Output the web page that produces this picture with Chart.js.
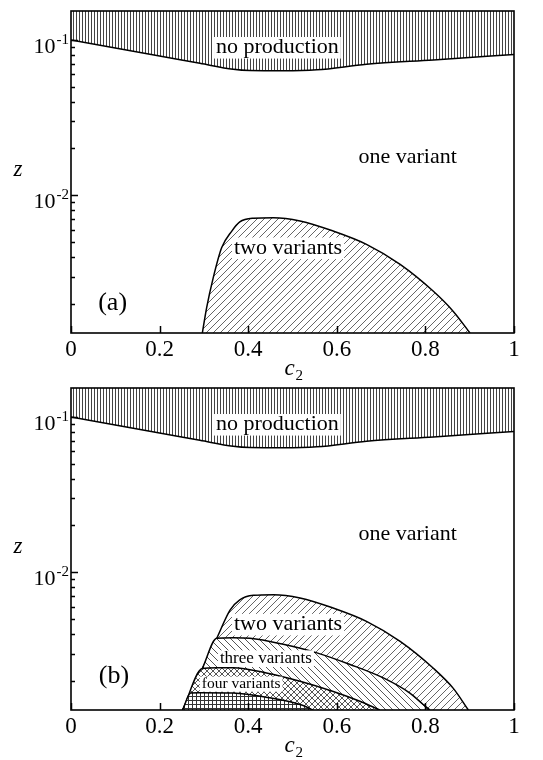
<!DOCTYPE html>
<html>
<head>
<meta charset="utf-8">
<script src="https://cdn.jsdelivr.net/npm/chart.js@4.4.1/dist/chart.umd.min.js"></script>
<style>
body { margin: 0; background: #fff; }
.panel { position: absolute; left: 0; width: 543px; }
</style>
</head>
<body>
<div class="panel" style="top:0;height:392px"><canvas id="chartA" width="543" height="392"></canvas></div>
<div class="panel" style="top:380px;height:380px"><canvas id="chartB" width="543" height="380"></canvas></div>
<script>
// axis ticks
const xTickValues = [0, 0.2, 0.4, 0.6, 0.8, 1];
const xTickLabels = ['0', '0.2', '0.4', '0.6', '0.8', '1'];
const yMajorTicks = [0.01, 0.1];
const yTickExponents = ['-2', '-1'];
const yMinorTicks = [0.002, 0.003, 0.004, 0.005, 0.006, 0.007, 0.008, 0.009,
                     0.02, 0.03, 0.04, 0.05, 0.06, 0.07, 0.08, 0.09];
const zMin = 0.0013;
const zMax = 0.153;

// "no production" boundary (same in both panels)
const c2NoProd = [0, 0.178, 0.291, 0.366, 0.404, 0.479, 0.555, 0.667, 0.818, 1];
const zNoProd = [0.0997, 0.0806, 0.0705, 0.0645, 0.0633, 0.0631, 0.064, 0.0695, 0.0741, 0.0803];

// panel (a): two variants
const c2TwoA = [0.2965, 0.306, 0.321, 0.340, 0.363, 0.381, 0.412, 0.457, 0.517, 0.592, 0.667, 0.743, 0.818, 0.863, 0.9007];
const zTwoA = [0.0013, 0.00188, 0.00294, 0.00459, 0.00588, 0.00673, 0.00711, 0.00717, 0.00683, 0.00588, 0.00483, 0.00359, 0.00241, 0.00179, 0.0013];

// panel (b)
const c2TwoB = [0.252, 0.2965, 0.329, 0.359, 0.381, 0.412, 0.457, 0.517, 0.592, 0.667, 0.743, 0.818, 0.863, 0.897];
const zTwoB = [0.0013, 0.0024, 0.00376, 0.00571, 0.00665, 0.0071, 0.00717, 0.00683, 0.00588, 0.00483, 0.00359, 0.00241, 0.00179, 0.0013];
const c2Three = [0.252, 0.2965, 0.329, 0.366, 0.404, 0.479, 0.555, 0.630, 0.705, 0.765, 0.795, 0.810];
const zThree = [0.0013, 0.0024, 0.00376, 0.00379, 0.00376, 0.00344, 0.00303, 0.00255, 0.00209, 0.00167, 0.00141, 0.0013];
const c2Four = [0.252, 0.2965, 0.329, 0.366, 0.441, 0.517, 0.592, 0.652, 0.697];
const zFour = [0.0013, 0.0024, 0.00243, 0.00243, 0.00225, 0.00199, 0.00171, 0.00148, 0.0013];
const c2Five = [0.252, 0.270, 0.291, 0.366, 0.441, 0.517, 0.547];
const zFive = [0.0013, 0.00167, 0.00168, 0.00167, 0.00157, 0.00141, 0.0013];

const serif = '"Liberation Serif", "Times New Roman", serif';

function pts(xs, ys) {
    return xs.map((v, i) => ({ x: v, y: ys[i] }));
}

function makePattern(w, h, color, draw) {
    const c = document.createElement('canvas');
    c.width = w;
    c.height = h;
    const g = c.getContext('2d');
    g.fillStyle = '#fff';
    g.fillRect(0, 0, w, h);
    g.strokeStyle = color;
    g.lineWidth = 1;
    g.beginPath();
    draw(g, w, h);
    g.stroke();
    return g.createPattern(c, 'repeat');
}

function slash(g, s) {
    g.moveTo(0, s); g.lineTo(s, 0);
    g.moveTo(-1, 1); g.lineTo(1, -1);
    g.moveTo(s - 1, s + 1); g.lineTo(s + 1, s - 1);
}
function backslash(g, s) {
    g.moveTo(0, 0); g.lineTo(s, s);
    g.moveTo(-1, s - 1); g.lineTo(1, s + 1);
    g.moveTo(s - 1, -1); g.lineTo(s + 1, 1);
}
const patVertical = makePattern(3, 3, '#444', (g, w, h) => { g.moveTo(1.5, 0); g.lineTo(1.5, h); });
const patSlash = makePattern(7, 7, '#666', (g, s) => slash(g, s));
const patBackslash = makePattern(7, 7, '#555', (g, s) => backslash(g, s));
const patCross = makePattern(6, 6, '#555', (g, s) => { slash(g, s); backslash(g, s); });
const patGrid = makePattern(4, 4, '#333', (g, s) => {
    g.moveTo(0, 0.5); g.lineTo(s, 0.5);
    g.moveTo(0.5, 0); g.lineTo(0.5, s);
});

function region(data, pattern, order, fill) {
    return {
        data: data,
        borderColor: '#000',
        borderWidth: 1.5,
        backgroundColor: pattern,
        fill: fill || 'start',
        pointRadius: 0,
        cubicInterpolationMode: 'monotone',
        order: order
    };
}

const decor = {
    id: 'decor',
    afterDatasetsDraw(chart, args, opts) {
        const ctx = chart.ctx;
        const a = chart.chartArea;
        const x = chart.scales.x;
        const y = chart.scales.y;
        ctx.save();

        // region labels
        opts.labels.forEach(l => {
            ctx.font = l.size + 'px ' + serif;
            const w = ctx.measureText(l.text).width;
            const px = x.getPixelForValue(l.c2);
            const py = y.getPixelForValue(l.z);
            if (l.box) {
                ctx.fillStyle = '#fff';
                ctx.fillRect(px - w / 2 - 2, py - l.size * 0.74, w + 4, l.size * 0.98);
            }
            ctx.fillStyle = '#000';
            ctx.textAlign = 'center';
            ctx.textBaseline = 'alphabetic';
            ctx.fillText(l.text, px, py);
        });

        // inward tick marks
        ctx.strokeStyle = '#000';
        ctx.lineWidth = 1.5;
        ctx.beginPath();
        yMinorTicks.forEach(v => {
            const py = Math.round(y.getPixelForValue(v)) + 0.5;
            ctx.moveTo(a.left, py);
            ctx.lineTo(a.left + 4, py);
        });
        yMajorTicks.forEach(v => {
            const py = Math.round(y.getPixelForValue(v)) + 0.5;
            ctx.moveTo(a.left, py);
            ctx.lineTo(a.left + 7, py);
        });
        xTickValues.forEach(v => {
            const px = Math.round(x.getPixelForValue(v)) + 0.5;
            ctx.moveTo(px, a.bottom);
            ctx.lineTo(px, a.bottom - 7);
        });
        ctx.stroke();

        // frame
        ctx.lineWidth = 1.6;
        ctx.strokeRect(a.left, a.top, a.right - a.left, a.bottom - a.top);

        // y tick labels 10^n
        ctx.fillStyle = '#000';
        ctx.textAlign = 'right';
        ctx.textBaseline = 'alphabetic';
        yMajorTicks.forEach((v, i) => {
            const py = y.getPixelForValue(v);
            ctx.font = '15px ' + serif;
            const ew = ctx.measureText(yTickExponents[i]).width;
            ctx.fillText(yTickExponents[i], a.left - 2, py + 4);
            ctx.font = '22px ' + serif;
            ctx.fillText('10', a.left - 3 - ew, py + 13);
        });

        // axis titles
        const midY = (a.top + a.bottom) / 2;
        ctx.font = 'italic 23px ' + serif;
        ctx.textAlign = 'center';
        ctx.fillText('z', 18, midY + 4);
        const cx = (a.left + a.right) / 2;
        ctx.textAlign = 'left';
        ctx.fillText('c', cx - 8, a.bottom + 42);
        ctx.font = '15px ' + serif;
        ctx.fillText('2', cx + 3, a.bottom + 47);

        ctx.restore();
    }
};

function makeChart(id, datasets, labels, topPad, axisHeight) {
    return new Chart(document.getElementById(id), {
        type: 'line',
        data: { datasets: datasets },
        options: {
            responsive: false,
            animation: false,
            layout: { padding: { top: topPad, right: 29, left: 0, bottom: 0 } },
            plugins: {
                legend: { display: false },
                tooltip: { enabled: false },
                colors: { enabled: false },
                decor: { labels: labels }
            },
            scales: {
                x: {
                    type: 'linear',
                    min: 0,
                    max: 1,
                    afterBuildTicks: s => { s.ticks = xTickValues.map(v => ({ value: v })); },
                    afterFit: s => { s.height = axisHeight; },
                    grid: { display: false, drawTicks: false },
                    border: { display: false },
                    ticks: {
                        padding: 3,
                        color: '#000',
                        font: { family: serif, size: 23 },
                        maxRotation: 0,
                        autoSkip: false,
                        callback: (v, i) => xTickLabels[i]
                    }
                },
                y: {
                    type: 'logarithmic',
                    min: zMin,
                    max: zMax,
                    afterFit: s => { s.width = 71; },
                    grid: { display: false, drawTicks: false },
                    border: { display: false },
                    ticks: { display: false }
                }
            }
        },
        plugins: [decor]
    });
}

makeChart('chartA', [
    region(pts(c2NoProd, zNoProd), patVertical, 5, 'end'),
    region(pts(c2TwoA, zTwoA), patSlash, 4)
], [
    { text: 'no production', c2: 0.466, z: 0.0818, size: 22, box: true },
    { text: 'one variant', c2: 0.76, z: 0.0161, size: 22 },
    { text: 'two variants', c2: 0.49, z: 0.0042, size: 22, box: true },
    { text: '(a)', c2: 0.094, z: 0.00184, size: 26 }
], 11, 59);

makeChart('chartB', [
    region(pts(c2NoProd, zNoProd), patVertical, 5, 'end'),
    region(pts(c2TwoB, zTwoB), patSlash, 4),
    region(pts(c2Three, zThree), patBackslash, 3),
    region(pts(c2Four, zFour), patCross, 2),
    region(pts(c2Five, zFive), patGrid, 1)
], [
    { text: 'no production', c2: 0.466, z: 0.0818, size: 22, box: true },
    { text: 'one variant', c2: 0.76, z: 0.016, size: 22 },
    { text: 'two variants', c2: 0.49, z: 0.00424, size: 22, box: true },
    { text: 'three variants', c2: 0.44, z: 0.00261, size: 17, box: true },
    { text: 'four variants', c2: 0.384, z: 0.0018, size: 15.5, box: true },
    { text: '(b)', c2: 0.097, z: 0.00194, size: 26 }
], 8, 50);
</script>
</body>
</html>
